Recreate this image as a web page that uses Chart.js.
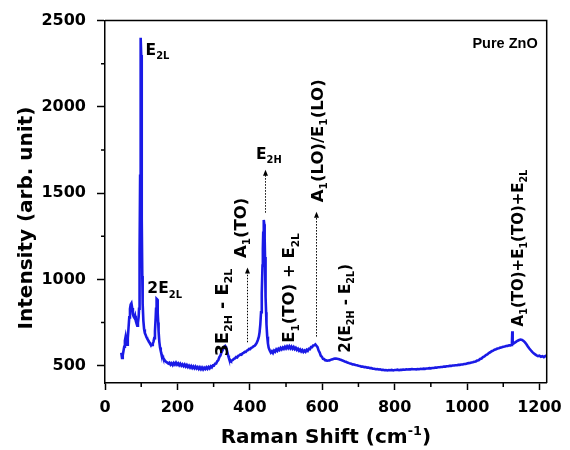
<!DOCTYPE html>
<html>
<head>
<meta charset="utf-8">
<script src="https://cdn.jsdelivr.net/npm/chart.js@4.4.0/dist/chart.umd.min.js"></script>
<style>
    html, body { margin: 0; padding: 0; background: #fff; }
</style>
</head>
<body>
<canvas id="raman" width="570" height="450"></canvas>
<script>
// spectrum (Raman shift in cm-1, intensity in arb. units)
const ramanShift = [
    45,47,49,51,53,55,57,59,61,63,65,67,69,71,73,75,77,79,81,83,85,87,89,91,93,94,95,96,97,98,99,100,101,102,103,104,
    106,108,110,112,114,116,118,120,122,124,126,128,130,132,134,136,138,140,141,142,143,144,145,146,147,148,150,152,154,156,158,160,163,166,169,172,
    175,178,181,184,187,190,193,196,199,202,205,208,211,214,217,220,223,226,229,232,235,238,241,244,247,250,253,256,259,262,265,268,271,274,277,280,283,286,289,292,295,298,301,304,307,310,313,316,319,322,325,328,
    330,332,334,336,338,340,342,344,346,348,350,353,356,359,362,365,368,371,374,377,380,383,386,389,392,395,398,401,404,407,410,413,416,419,422,425,427,429,431,433,435,436,437,438,439,440,441,442,443,444,445,446,448,450,452,
    455,458,461,464,467,470,473,476,479,482,485,488,491,494,497,500,503,506,509,512,515,518,521,524,527,530,533,536,539,542,545,548,551,554,557,560,563,566,569,572,575,578,581,584,587,590,593,596,599,602,605,608,611,614,617,620,623,626,629,632,635,638,641,644,647,650,653,656,659,662,665,668,671,674,677,680,
    684,688,692,696,700,704,708,712,716,720,724,728,732,736,740,744,748,752,756,760,764,768,772,776,780,784,788,792,796,800,804,808,812,816,820,824,828,832,836,840,844,848,
    852,856,860,864,868,872,876,880,884,888,892,896,900,904,908,912,916,920,924,928,932,936,940,944,948,952,956,960,964,968,972,976,980,984,988,992,996,1000,
    1004,1008,1012,1016,1020,1024,1028,1032,1036,1040,1044,1048,1052,1056,1060,1064,1068,1072,1076,1080,1084,1088,1092,1096,1100,1104,1108,1112,1116,1120,
    1122,1124,1125,1126,1128,1132,1136,1140,1144,1148,1152,1156,1160,1164,1168,1172,1176,1180,1184,1188,1192,1196,1200,1204,1208,1212,1216,1220
];
const intensity = [
    575,545,560,585,610,645,668,640,622,660,720,780,830,855,862,835,800,785,778,790,760,745,732,748,785,830,920,1150,1600,2100,2400,2300,1850,1350,1020,860,
    760,712,690,680,668,660,652,645,638,630,622,618,620,628,640,660,700,780,830,868,888,885,860,810,750,700,640,605,585,572,560,548,538,528,522,518,
    513,518,506,514,504,516,507,518,506,514,503,512,500,508,498,507,495,504,492,501,490,499,487,496,485,495,484,492,481,491,480,490,479,489,481,491,482,493,485,496,490,502,501,512,513,526,533,550,560,580,590,605,
    610,614,608,596,578,560,546,537,531,527,530,533,540,543,550,548,558,560,566,564,572,575,581,580,588,590,597,596,604,606,612,615,622,632,648,668,695,740,810,920,1080,1180,1270,1330,1345,1320,1240,1130,1010,900,810,740,670,630,605,
    588,576,584,574,588,581,594,586,598,591,603,595,606,598,610,600,612,602,613,601,611,599,608,596,604,592,599,587,594,583,591,580,588,581,592,586,598,596,608,608,617,618,624,616,608,588,576,558,552,540,539,532,531,529,530,531,534,536,538,540,541,541,540,539,537,535,533,530,528,525,523,520,518,515,513,511,
    508,507,504,503,500,498,495,495,492,492,489,489,486,486,483,483,480,481,478,479,476,477,474,475,473,475,474,476,473,475,475,477,474,476,476,478,477,479,478,480,479,481,
    480,480,479,481,480,482,481,483,482,484,484,486,485,487,487,489,489,491,491,493,493,495,495,497,497,499,499,501,501,503,503,505,505,507,507,510,510,513,
    515,516,519,520,523,525,530,532,539,542,550,554,562,566,574,578,584,588,593,596,600,602,605,607,610,611,614,615,618,618,
    620,630,700,632,628,634,640,645,649,652,650,644,635,625,612,600,590,580,572,566,560,556,558,552,555,550,556,560
];

const xTicks = [0, 200, 400, 600, 800, 1000, 1200];
const xMinorTicks = [100, 300, 500, 700, 900, 1100];
const yTicks = [500, 1000, 1500, 2000, 2500];
const yMinorTicks = [750, 1250, 1750, 2250];

// peak labels, placed in data coordinates
const peakLabels = [
    { text: "E_{2L}", x: 112, y: 2300, size: 15.5, vertical: false },
    { text: "2E_{2L}", x: 117, y: 920, size: 15.5, vertical: false },
    { text: "E_{2H}", x: 417, y: 1700, size: 15.5, vertical: false },
    { text: "3E_{2H} - E_{2L}", x: 321, y: 555, size: 17.5, vertical: true },
    { text: "A_{1}(TO)", x: 372, y: 1124, size: 16.5, vertical: true },
    { text: "E_{1}(TO) + E_{2L}", x: 507, y: 633, size: 16.5, vertical: true },
    { text: "A_{1}(LO)/E_{1}(LO)", x: 585, y: 1448, size: 16.5, vertical: true },
    { text: "2(E_{2H} - E_{2L})", x: 662, y: 575, size: 15, vertical: true },
    { text: "A_{1}(TO)+E_{1}(TO)+E_{2L}", x: 1140, y: 728, size: 15, vertical: true }
];
const peakArrows = [
    { x: 391, from: 636, to: 1069 },
    { x: 443, from: 1387, to: 1636 },
    { x: 584, from: 669, to: 1392 }
];

const FAMILY = '"DejaVu Sans", sans-serif';

function richParts(str) {
    return str.split(/(_\{[^}]*\}|\^\{[^}]*\})/).filter(p => p.length);
}

function richWidth(ctx, str, size) {
    let w = 0;
    richParts(str).forEach(p => {
        let small = p[0] === "_" || p[0] === "^";
        ctx.font = "bold " + (small ? size * 0.64 : size) + "px " + FAMILY;
        w += ctx.measureText(small ? p.slice(2, -1) : p).width;
    });
    return w;
}

function drawRich(ctx, str, size, x0, y0) {
    let cx = x0;
    richParts(str).forEach(p => {
        if (p[0] === "_" || p[0] === "^") {
            let t = p.slice(2, -1);
            ctx.font = "bold " + size * 0.64 + "px " + FAMILY;
            ctx.fillText(t, cx, p[0] === "_" ? y0 + size * 0.28 : y0 - size * 0.42);
            cx += ctx.measureText(t).width;
        } else {
            ctx.font = "bold " + size + "px " + FAMILY;
            ctx.fillText(p, cx, y0);
            cx += ctx.measureText(p).width;
        }
    });
}

const decorations = {
    id: "decorations",
    afterDatasetsDraw(chart) {
        const { ctx, chartArea: a, scales: { x, y } } = chart;
        ctx.save();
        ctx.strokeStyle = "#000";
        ctx.fillStyle = "#000";
        ctx.lineWidth = 1.5;

        // top and right frame
        ctx.beginPath();
        ctx.moveTo(a.left, a.top);
        ctx.lineTo(a.right, a.top);
        ctx.lineTo(a.right, a.bottom);
        ctx.stroke();

        // minor ticks
        ctx.beginPath();
        xMinorTicks.forEach(v => {
            let px = x.getPixelForValue(v);
            ctx.moveTo(px, a.bottom);
            ctx.lineTo(px, a.bottom + 4);
        });
        yMinorTicks.forEach(v => {
            let py = y.getPixelForValue(v);
            ctx.moveTo(a.left, py);
            ctx.lineTo(a.left - 4, py);
        });
        ctx.stroke();

        // dotted arrows
        ctx.lineWidth = 1;
        peakArrows.forEach(ar => {
            let px = Math.round(x.getPixelForValue(ar.x)) + 0.5;
            let y1 = y.getPixelForValue(ar.from);
            let y2 = y.getPixelForValue(ar.to);
            ctx.setLineDash([1.5, 1.5]);
            ctx.beginPath();
            ctx.moveTo(px, y1);
            ctx.lineTo(px, y2 + 4);
            ctx.stroke();
            ctx.setLineDash([]);
            ctx.beginPath();
            ctx.moveTo(px, y2);
            ctx.lineTo(px - 2.5, y2 + 6);
            ctx.lineTo(px + 2.5, y2 + 6);
            ctx.closePath();
            ctx.fill();
        });

        // peak labels
        ctx.textBaseline = "alphabetic";
        ctx.textAlign = "left";
        peakLabels.forEach(l => {
            let px = x.getPixelForValue(l.x);
            let py = y.getPixelForValue(l.y);
            if (l.vertical) {
                ctx.save();
                ctx.translate(px, py);
                ctx.rotate(-Math.PI / 2);
                drawRich(ctx, l.text, l.size, 0, l.size * 0.36);
                ctx.restore();
            } else {
                drawRich(ctx, l.text, l.size, px, py);
            }
        });

        // sample name
        ctx.font = 'bold 14.5px "Liberation Sans", sans-serif';
        ctx.textAlign = "right";
        ctx.fillText("Pure ZnO", a.right - 9, a.top + 27);

        // axis titles
        ctx.textAlign = "left";
        let xt = "Raman Shift (cm^{-1})";
        let w = richWidth(ctx, xt, 20);
        drawRich(ctx, xt, 20, (a.left + a.right) / 2 - w / 2, 443);

        let yt = "Intensity (arb. unit)";
        w = richWidth(ctx, yt, 20);
        ctx.save();
        ctx.translate(32, 218);
        ctx.rotate(-Math.PI / 2);
        drawRich(ctx, yt, 20, -w / 2, 0);
        ctx.restore();

        ctx.restore();
    }
};

new Chart(document.getElementById("raman"), {
    type: "line",
    data: {
        datasets: [{
            data: ramanShift.map((v, i) => ({ x: v, y: intensity[i] })),
            borderColor: "#1a1ae6",
            borderWidth: 2.6,
            pointRadius: 0,
            tension: 0,
            fill: false
        }]
    },
    options: {
        responsive: false,
        animation: false,
        devicePixelRatio: 1,
        layout: { padding: { top: 20, right: 17, left: 0, bottom: 0 } },
        plugins: { legend: { display: false }, tooltip: { enabled: false } },
        scales: {
            x: {
                type: "linear",
                min: 0,
                max: 1220,
                afterBuildTicks: s => { s.ticks = xTicks.map(v => ({ value: v })); },
                afterFit: s => { s.height = 67; },
                ticks: {
                    font: { family: FAMILY, size: 16, weight: "bold" },
                    color: "#000",
                    padding: 8,
                    maxRotation: 0,
                    autoSkip: false,
                    callback: v => String(v)
                },
                grid: { drawOnChartArea: false, tickLength: 7, tickWidth: 1.5, tickColor: "#000" },
                border: { color: "#000", width: 1.5 }
            },
            y: {
                type: "linear",
                min: 400,
                max: 2500,
                afterBuildTicks: s => { s.ticks = yTicks.map(v => ({ value: v })); },
                afterFit: s => { s.width = 105; },
                ticks: {
                    font: { family: FAMILY, size: 16, weight: "bold" },
                    color: "#000",
                    padding: 11,
                    callback: v => String(v)
                },
                grid: { drawOnChartArea: false, tickLength: 8, tickWidth: 1.5, tickColor: "#000" },
                border: { color: "#000", width: 1.5 }
            }
        }
    },
    plugins: [decorations]
});
</script>
</body>
</html>
